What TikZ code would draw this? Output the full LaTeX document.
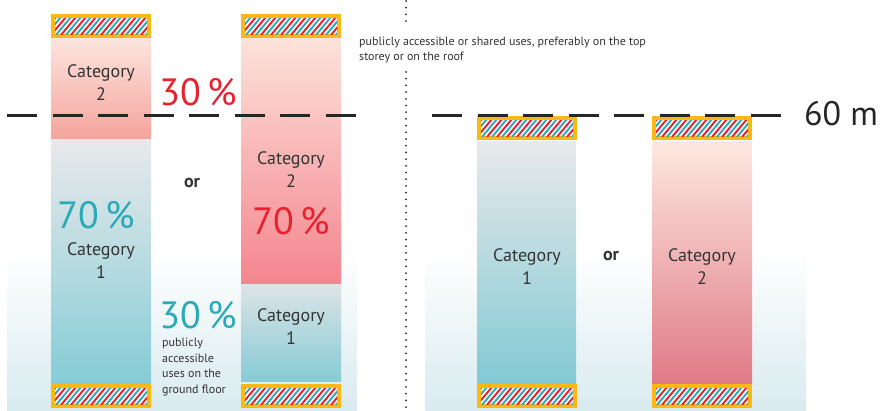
\documentclass[tikz,border=0pt]{standalone}
\usepackage{fontspec}
\setmainfont{PT Sans}
\usetikzlibrary{calc}
\usepackage{xcolor}
\definecolor{catred}{HTML}{E8212E}
\definecolor{catcyan}{HTML}{2AA9B7}
\definecolor{hatchorange}{HTML}{FDB814}
\definecolor{hatchred}{HTML}{EC1C2E}
\definecolor{hatchcyan}{HTML}{2DAAB8}
\definecolor{txtgrey}{HTML}{333333}
\definecolor{bgblue}{HTML}{D9EBEF}

% hatched roof/ground box, top left corner at (#1,#2)
\newcommand{\hatchbox}[2]{%
 \fill[hatchorange] (#1,#2) rectangle ++(100,24);
 \begin{scope}
 \clip (#1+4,#2+4) rectangle ++(92,16);
 \fill[white] (#1+4,#2+4) rectangle ++(92,16);
 \foreach \s in {0,10,...,110} {
  \draw[hatchred, line width=1.9] (#1+\s-10,#2+21) --++(15,-18);
  \draw[hatchcyan, line width=1.9] (#1+\s-5,#2+21) --++(15,-18);
 }
 \end{scope}
}

\begin{document}
\begin{tikzpicture}[x=1pt, y=-1pt,
 cat/.style={align=center, text=txtgrey, font=\fontsize{18}{23}\selectfont, inner sep=0},
 pct/.style={font=\fontsize{38}{40}\selectfont, inner sep=0},
 ortext/.style={text=txtgrey, font=\fontsize{18}{20}\selectfont\bfseries, inner sep=0},
 note/.style={align=left, text=txtgrey, font=\fontsize{12}{15.5}\selectfont, inner sep=0},
 level/.style={black!85, line width=3, dash pattern=on 30 off 15.5},
]
\useasboundingbox (0,0) rectangle (884,410);

% background panels
\shade[top color=white, bottom color=bgblue] (7,250) rectangle (357,410);
\shade[top color=white, bottom color=bgblue] (425,250) rectangle (806,410);

% left: first option
\shade[top color={rgb,255:red,253;green,230;blue,223}, bottom color={rgb,255:red,244;green,163;blue,156}] (51,37) rectangle (151,139);
\shade[top color={rgb,255:red,233;green,233;blue,235}, bottom color={rgb,255:red,133;green,204;blue,214}] (51,139) rectangle (151,384);
\hatchbox{51}{14}
\hatchbox{51}{384}

% left: second option
\shade[top color={rgb,255:red,252;green,227;blue,218}, bottom color={rgb,255:red,244;green,133;blue,143}] (241,37) rectangle (341,284);
\shade[top color={rgb,255:red,220;green,228;blue,230}, bottom color={rgb,255:red,134;green,203;blue,213}] (241,284) rectangle (341,381);
\hatchbox{241}{14}
\hatchbox{241}{384}

% right: over 60 m
\shade[top color={rgb,255:red,232;green,233;blue,235}, bottom color={rgb,255:red,130;green,201;blue,211}] (477,141) rectangle (576,384);
\shade[top color={rgb,255:red,253;green,232;blue,224}, bottom color={rgb,255:red,224;green,122;blue,135}] (652,141) rectangle (752,384);
\hatchbox{477}{116}
\hatchbox{652}{116}
\hatchbox{477}{384}
\hatchbox{652}{384}

% height line
\coordinate (lineAstart) at (7,115);
\coordinate (lineAend) at (357,115);
\coordinate (lineBstart) at (432,115);
\coordinate (lineBend) at (783,115);
\draw[level] (lineAstart) -- (lineAend);
\draw[level] (lineBstart) -- (lineBend);
\node[anchor=west, text=black!85, font=\fontsize{34}{36}\selectfont, inner sep=0] (height) at (804,114) {60 m};

% divider
\coordinate (divtop) at (406,1);
\coordinate (divmid) at (406,22);
\coordinate (divlow) at (406,72);
\coordinate (divbot) at (406,410);
\draw[black!85, line width=2, line cap=round, dash pattern=on 0 off 6.7] (divtop) -- (divmid);
\draw[black!85, line width=2, line cap=round, dash pattern=on 0 off 6.7] (divlow) -- (divbot);
\node[note, anchor=west] (topnote) at (359,50) {publicly accessible or shared uses, preferably on the top\\storey or on the roof};

% labels, first option
\node[cat] (catAtwo) at (101,83) {Category\\2};
\node[pct, text=catred] (pctAred) at (198,92) {30\,\%};
\node[pct, text=catcyan] (pctAcyan) at (96,215) {70\,\%};
\node[cat] (catAone) at (101,261) {Category\\1};
\node[ortext] (orA) at (192,183) {or};

% labels, second option
\node[cat] (catBtwo) at (291,170) {Category\\2};
\node[pct, text=catred] (pctBred) at (291,221) {70\,\%};
\node[cat] (catBone) at (291,327) {Category\\1};
\node[pct, text=catcyan] (pctBcyan) at (198,315) {30\,\%};
\node[note, anchor=west] (groundnote) at (162,367) {publicly\\accessible\\uses on the\\ground floor};

% labels, right
\node[cat] (catCone) at (527,267) {Category\\1};
\node[ortext] (orB) at (611,256) {or};
\node[cat] (catDtwo) at (702,267) {Category\\2};
\end{tikzpicture}
\end{document}
